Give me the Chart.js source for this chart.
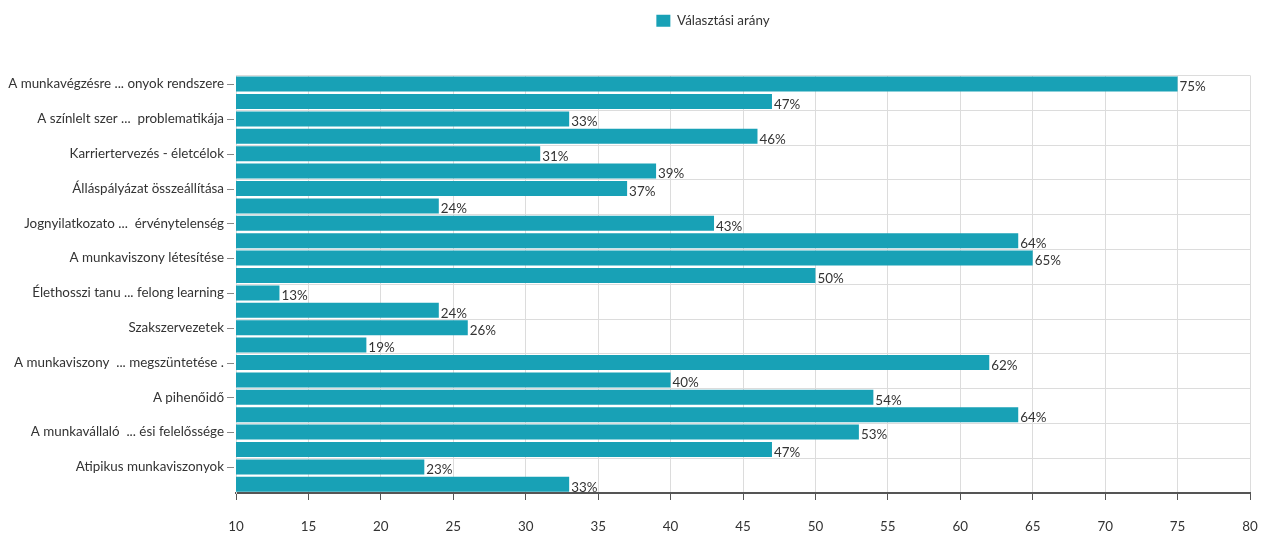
<!DOCTYPE html>
<html>
<head>
<meta charset="utf-8">
<script src="https://cdn.jsdelivr.net/npm/chart.js@4.4.1/dist/chart.umd.min.js"></script>
<style>
  html, body { margin: 0; padding: 0; background: #fff; }
  #wrap { width: 1271px; height: 538px; }
</style>
</head>
<body>
<div id="wrap"><canvas id="myChart"></canvas></div>
<script>
// kategóriák (a páratlan sorok felirata nem látszik a képen)
const categories = [
  'A munkavégzésre ... onyok rendszere', '',
  'A színlelt szer ...  problematikája', '',
  'Karriertervezés - életcélok', '',
  'Álláspályázat összeállítása', '',
  'Jognyilatkozato ...  érvénytelenség', '',
  'A munkaviszony létesítése', '',
  'Élethosszi tanu ... felong learning', '',
  'Szakszervezetek', '',
  'A munkaviszony  ... megszüntetése .', '',
  'A pihenőidő', '',
  'A munkavállaló  ... ési felelőssége', '',
  'Atipikus munkaviszonyok', ''
];

// választási arány (%)
const values = [75, 47, 33, 46, 31, 39, 37, 24, 43, 64, 65, 50, 13, 24, 26, 19, 62, 40, 54, 64, 53, 47, 23, 33];

const seriesLabel = 'Választási arány';
const xTicks = [10, 15, 20, 25, 30, 35, 40, 45, 50, 55, 60, 65, 70, 75, 80];

const barColor = '#18a1b6';
const fontFamily = "Lato, sans-serif";
const fontSize = 13.4;

// legenda alatti hely, és a legenda kicsit jobbra tolva
const legendMargin = {
  id: 'legendMargin',
  beforeInit(chart) {
    const legend = chart.legend;
    const fit = legend.fit;
    legend.fit = function () {
      fit.bind(legend)();
      this.height += 38;
    };
    const draw = legend.draw;
    legend.draw = function () {
      chart.ctx.save();
      chart.ctx.translate(88, 0);
      draw.apply(legend, arguments);
      chart.ctx.restore();
    };
  }
};

// értékek a sávok végén + y tengely kis vonalai
const barLabels = {
  id: 'barLabels',
  afterDatasetsDraw(chart) {
    const ctx = chart.ctx;
    const meta = chart.getDatasetMeta(0);
    ctx.save();
    ctx.font = fontSize + 'px ' + fontFamily;
    ctx.fillStyle = '#333';
    ctx.textBaseline = 'middle';
    ctx.textAlign = 'left';
    meta.data.forEach((bar, i) => {
      ctx.fillText(values[i] + '%', bar.x + 2, bar.y + 3);
    });
    // tick jelek a feliratoknál
    const y = chart.scales.y;
    ctx.strokeStyle = '#888';
    ctx.lineWidth = 1;
    categories.forEach((c, i) => {
      if (i % 2 === 0) {
        const py = Math.round(y.getPixelForValue(i)) + 0.5;
        ctx.beginPath();
        ctx.moveTo(y.right - 9, py);
        ctx.lineTo(y.right - 2, py);
        ctx.stroke();
      }
    });
    ctx.restore();
  }
};

new Chart(document.getElementById('myChart'), {
  type: 'bar',
  data: {
    labels: categories,
    datasets: [{
      label: seriesLabel,
      data: values,
      backgroundColor: barColor,
      borderWidth: 0,
      barPercentage: 0.86,
      categoryPercentage: 1
    }]
  },
  options: {
    indexAxis: 'y',
    responsive: true,
    maintainAspectRatio: false,
    animation: false,
    layout: { padding: { top: 4, right: 21, bottom: 0, left: 0 } },
    plugins: {
      legend: {
        position: 'top',
        labels: {
          boxWidth: 14,
          boxHeight: 12,
          padding: 10,
          color: '#333',
          font: { family: fontFamily, size: fontSize }
        }
      },
      tooltip: { enabled: false }
    },
    scales: {
      x: {
        min: 10,
        max: 80,
        afterBuildTicks(scale) {
          scale.ticks = xTicks.map(v => ({ value: v }));
        },
        afterFit(scale) {
          scale.height = 45;
          scale.paddingLeft = 0;
          scale.paddingRight = 0;
        },
        ticks: {
          color: '#333',
          padding: 19,
          font: { family: fontFamily, size: fontSize }
        },
        grid: {
          color: '#dcdcdc',
          tickColor: '#555',
          tickLength: 7
        },
        border: { color: '#555', width: 2 }
      },
      y: {
        afterFit(scale) { scale.width = 236; },
        ticks: {
          autoSkip: false,
          color: '#333',
          padding: 12,
          font: { family: fontFamily, size: fontSize },
          callback: (v, i) => categories[i]
        },
        grid: {
          drawTicks: false,
          color: ctx => (ctx.index % 2 === 0 ? '#dcdcdc' : 'rgba(0,0,0,0)')
        },
        border: { color: '#dcdcdc' }
      }
    }
  },
  plugins: [legendMargin, barLabels]
});
</script>
</body>
</html>
